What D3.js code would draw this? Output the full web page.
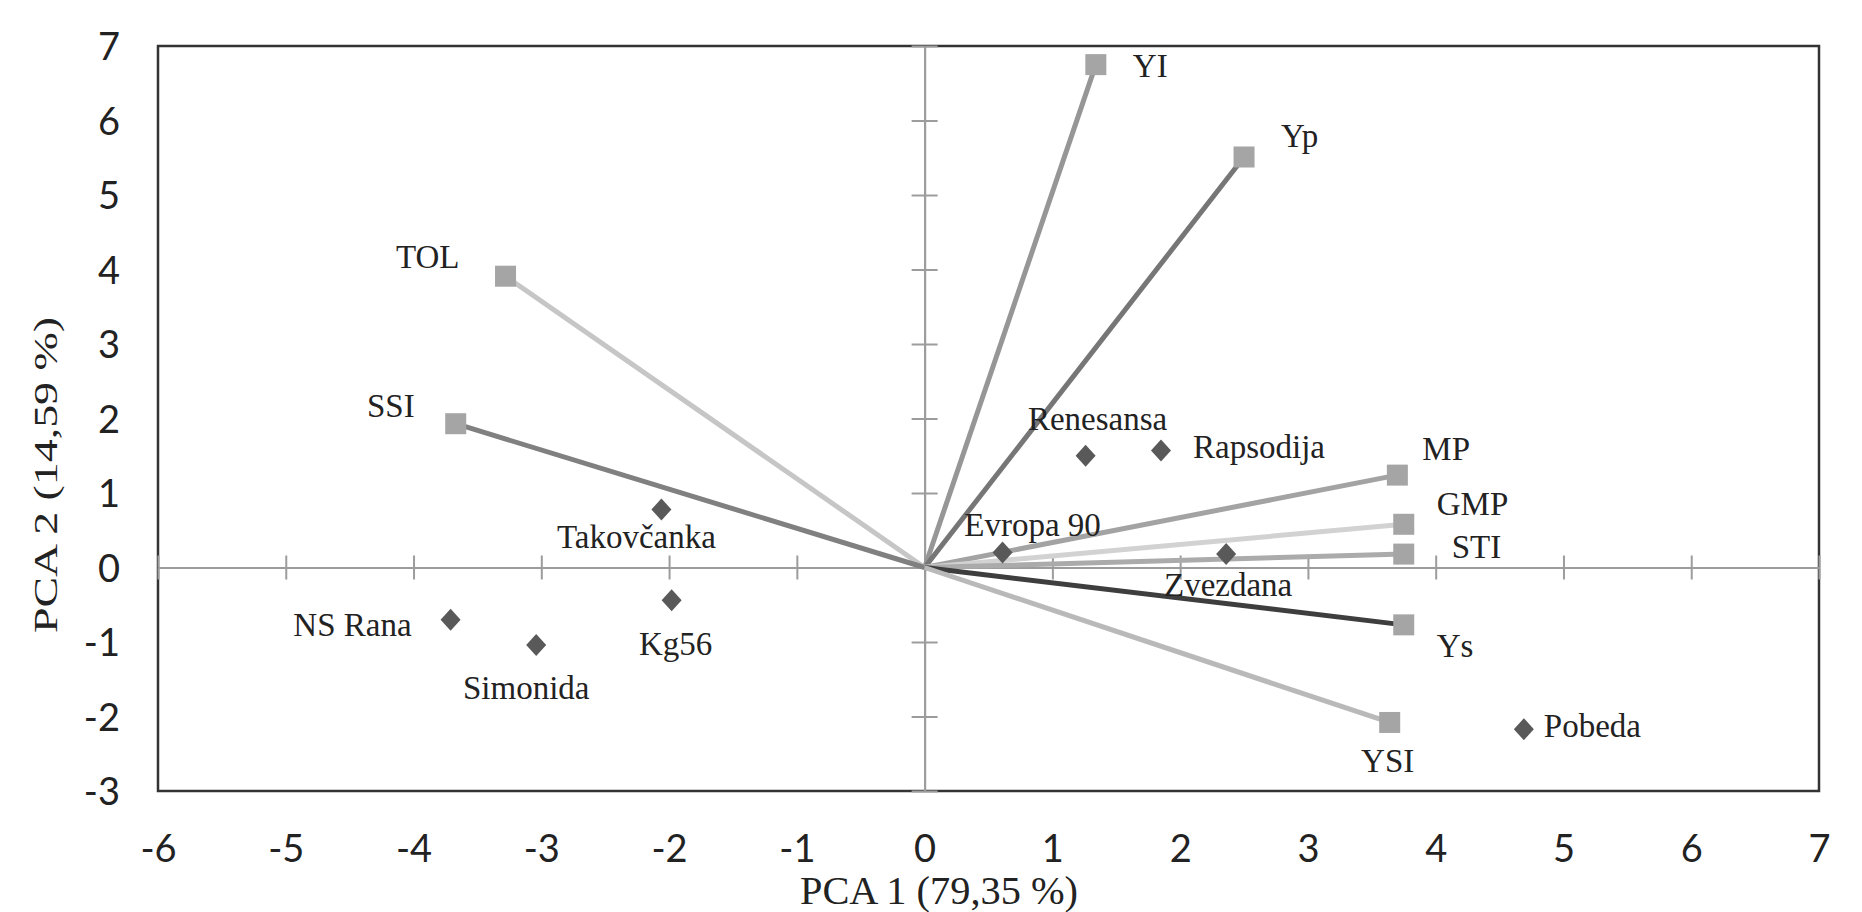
<!DOCTYPE html>
<html>
<head>
<meta charset="utf-8">
<script src="https://cdn.jsdelivr.net/npm/d3@7"></script>
<style>
body{margin:0;background:#fff;}
</style>
</head>
<body>
<div id="chart"></div>
<script>
// variable loadings (squares with vectors from origin)
var variables = ["YI", "Yp", "TOL", "SSI", "MP", "GMP", "STI", "Ys", "YSI"];
var varPC1 = [1.34, 2.50, -3.28, -3.67, 3.70, 3.75, 3.75, 3.75, 3.64];
var varPC2 = [6.75, 5.51, 3.91, 1.93, 1.24, 0.58, 0.18, -0.77, -2.08];

// cultivar scores (diamonds)
var cultivars = ["Takovčanka", "Kg56", "NS Rana", "Simonida", "Renesansa", "Rapsodija", "Evropa 90", "Zvezdana", "Pobeda"];
var cultPC1 = [-2.06, -1.98, -3.71, -3.04, 1.26, 1.85, 0.61, 2.36, 4.69];
var cultPC2 = [0.78, -0.44, -0.70, -1.04, 1.50, 1.57, 0.20, 0.18, -2.17];

var xTicks = [-6, -5, -4, -3, -2, -1, 0, 1, 2, 3, 4, 5, 6, 7];
var yTicks = [-3, -2, -1, 0, 1, 2, 3, 4, 5, 6, 7];
var xTitle = "PCA 1 (79,35 %)";
var yTitle = "PCA 2 (14,59 %)";

// styling, kept apart from the data
var vecColors = ["#969696", "#767676", "#c6c6c6", "#808080", "#a3a3a3", "#d2d2d2", "#ababab", "#3e3e3e", "#b9b9b9"];
// label placement: [anchor, dx, dy(baseline)] in px
var varLabelPos = [["start", 37, 12], ["start", 37, -10], ["end", -46, -8], ["end", -41, -7],
  ["start", 25, -15], ["start", 33, -9], ["start", 48, 4], ["start", 33, 32], ["middle", -2, 50]];
var cultLabelPos = [["middle", -25, 39], ["middle", 4, 55], ["end", -39, 16], ["middle", -10, 54],
  ["middle", 12, -26], ["start", 32, 7], ["middle", 30, -17], ["middle", 2, 42], ["start", 20, 8]];

var W = 1862, H = 912;
var plotL = 158, plotR = 1819, plotT = 46, plotB = 791;

var svg = d3.select("#chart").append("svg")
  .attr("width", W).attr("height", H);

var x = d3.scaleLinear().domain([-6, 7]).range([plotL, plotR]);
var y = d3.scaleLinear().domain([-3, 7]).range([plotB, plotT]);

var serif = "'Liberation Serif', 'Times New Roman', serif";
var sans = "Lato, 'Open Sans', sans-serif";

// frame
svg.append("rect")
  .attr("x", plotL).attr("y", plotT)
  .attr("width", plotR - plotL).attr("height", plotB - plotT)
  .attr("fill", "none").attr("stroke", "#333").attr("stroke-width", 2.5);

// zero axes with crossing ticks
function styleAxis(g) {
  g.selectAll("path,line").attr("stroke", "#9c9c9c").attr("stroke-width", 2);
  g.selectAll("text").remove();
}
svg.append("g").attr("transform", "translate(0," + y(0) + ")")
  .call(d3.axisBottom(x).tickValues(xTicks).tickSize(12).tickSizeOuter(0).tickFormat(""))
  .call(styleAxis);
svg.append("g").attr("transform", "translate(0," + y(0) + ")")
  .call(d3.axisTop(x).tickValues(xTicks).tickSize(12).tickSizeOuter(0).tickFormat(""))
  .call(styleAxis);
svg.append("g").attr("transform", "translate(" + x(0) + ",0)")
  .call(d3.axisLeft(y).tickValues(yTicks).tickSize(13).tickSizeOuter(0).tickFormat(""))
  .call(styleAxis);
svg.append("g").attr("transform", "translate(" + x(0) + ",0)")
  .call(d3.axisRight(y).tickValues(yTicks).tickSize(13).tickSizeOuter(0).tickFormat(""))
  .call(styleAxis);

// tick labels
var xl = svg.append("g").attr("transform", "translate(0,835)")
  .call(d3.axisBottom(x).tickValues(xTicks).tickSize(0).tickPadding(0).tickFormat(function(d){ return String(d); }));
xl.select(".domain").remove();
xl.selectAll("text").attr("font-family", sans).attr("font-size", 38).attr("fill", "#222");

var yl = svg.append("g").attr("transform", "translate(123,0)")
  .call(d3.axisLeft(y).tickValues(yTicks).tickSize(0).tickPadding(3).tickFormat(function(d){ return String(d); }));
yl.select(".domain").remove();
yl.selectAll("text").attr("font-family", sans).attr("font-size", 38).attr("fill", "#222").attr("dy", "0.36em");

// axis titles
svg.append("text")
  .attr("x", 800).attr("y", 904)
  .attr("font-family", serif).attr("font-size", 40).attr("fill", "#222")
  .attr("textLength", 278).attr("lengthAdjust", "spacingAndGlyphs")
  .text(xTitle);
svg.append("text")
  .attr("transform", "translate(57,475) rotate(-90)")
  .attr("text-anchor", "middle")
  .attr("font-family", serif).attr("font-size", 33).attr("fill", "#222")
  .attr("textLength", 316).attr("lengthAdjust", "spacingAndGlyphs")
  .text(yTitle);

// vectors
var vars = variables.map(function(n, i){ return {name: n, pc1: varPC1[i], pc2: varPC2[i], i: i}; });
svg.selectAll("line.vec").data(vars).enter().append("line")
  .attr("class", "vec")
  .attr("x1", x(0)).attr("y1", y(0))
  .attr("x2", function(d){ return x(d.pc1); })
  .attr("y2", function(d){ return y(d.pc2); })
  .attr("stroke", function(d){ return vecColors[d.i]; })
  .attr("stroke-width", 5);

svg.selectAll("rect.sq").data(vars).enter().append("rect")
  .attr("class", "sq")
  .attr("x", function(d){ return x(d.pc1) - 10.5; })
  .attr("y", function(d){ return y(d.pc2) - 10.5; })
  .attr("width", 21).attr("height", 21)
  .attr("fill", "#a5a5a5");

svg.selectAll("text.vl").data(vars).enter().append("text")
  .attr("class", "vl")
  .attr("x", function(d){ return x(d.pc1) + varLabelPos[d.i][1]; })
  .attr("y", function(d){ return y(d.pc2) + varLabelPos[d.i][2]; })
  .attr("text-anchor", function(d){ return varLabelPos[d.i][0]; })
  .attr("font-family", serif).attr("font-size", 33).attr("fill", "#222")
  .text(function(d){ return d.name; });

// cultivars
var cults = cultivars.map(function(n, i){ return {name: n, pc1: cultPC1[i], pc2: cultPC2[i], i: i}; });
var diamond = d3.symbol().type(d3.symbolSquare).size(200);
svg.selectAll("path.dm").data(cults).enter().append("path")
  .attr("class", "dm")
  .attr("d", diamond)
  .attr("transform", function(d){ return "translate(" + x(d.pc1) + "," + y(d.pc2) + ") scale(1,1.1) rotate(45)"; })
  .attr("fill", "#595959");

svg.selectAll("text.cl").data(cults).enter().append("text")
  .attr("class", "cl")
  .attr("x", function(d){ return x(d.pc1) + cultLabelPos[d.i][1]; })
  .attr("y", function(d){ return y(d.pc2) + cultLabelPos[d.i][2]; })
  .attr("text-anchor", function(d){ return cultLabelPos[d.i][0]; })
  .attr("font-family", serif).attr("font-size", 33).attr("fill", "#222")
  .text(function(d){ return d.name; });
</script>
</body>
</html>
